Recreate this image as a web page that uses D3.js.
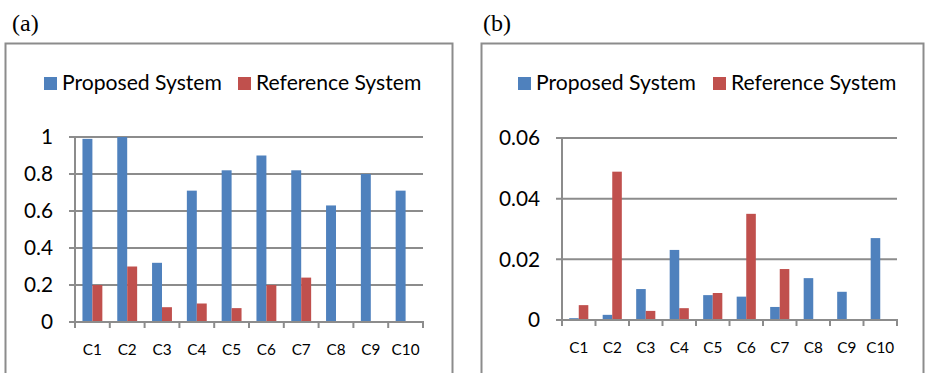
<!DOCTYPE html>
<html>
<head>
<meta charset="utf-8">
<script src="https://cdn.jsdelivr.net/npm/d3@7"></script>
<style>
  html, body { margin: 0; padding: 0; background: #fff; }
  svg { display: block; }
</style>
</head>
<body>
<svg id="chart" width="928" height="373"></svg>
<script>
const categories = ["C1", "C2", "C3", "C4", "C5", "C6", "C7", "C8", "C9", "C10"];
const seriesNames = ["Proposed System", "Reference System"];
const proposedA = [0.99, 1.0, 0.32, 0.71, 0.82, 0.90, 0.82, 0.63, 0.80, 0.71];
const referenceA = [0.20, 0.30, 0.08, 0.10, 0.075, 0.20, 0.24, 0, 0, 0];
const proposedB = [0.0006, 0.0017, 0.0102, 0.0231, 0.0082, 0.0077, 0.0043, 0.0138, 0.0093, 0.027];
const referenceB = [0.0049, 0.0489, 0.003, 0.0039, 0.0089, 0.035, 0.0168, 0, 0, 0];
const ticksA = [0, 0.2, 0.4, 0.6, 0.8, 1];
const ticksB = [0, 0.02, 0.04, 0.06];
const tickLabelsA = ["0", "0.2", "0.4", "0.6", "0.8", "1"];
const tickLabelsB = ["0", "0.02", "0.04", "0.06"];
const panelLabels = ["(a)", "(b)"];

const colors = ["#4F81BD", "#C0504D"];
const svg = d3.select("#chart");
const sans = "Lato, 'Open Sans', sans-serif";

// choose a font size so that a sample string reaches a given width
function fitSize(sample, width) {
  const t = svg.append("text").attr("font-family", sans).attr("font-size", 100).text(sample);
  const w = t.node().getComputedTextLength();
  t.remove();
  return 100 * width / w;
}
const legendSize = fitSize("Proposed System", 160);
const yTickSize = fitSize("0.8", 29);
const xTickSize = fitSize("C10", 28);

function panel(cfg) {
  const g = svg.append("g");
  g.append("rect").attr("x", cfg.box[0] + 0.5).attr("y", cfg.box[1] + 0.5)
    .attr("width", cfg.box[2] - cfg.box[0]).attr("height", cfg.box[3] - cfg.box[1])
    .attr("fill", "#fff").attr("stroke", "#8c8c8c").attr("stroke-width", 2);
  g.append("text").attr("x", cfg.labelX).attr("y", 31)
    .attr("font-family", "'Liberation Serif', 'Times New Roman', serif")
    .attr("font-size", 24).attr("fill", "#000").text(cfg.label);

  const x = d3.scaleBand().domain(categories).range([cfg.x0, cfg.x1]);
  const y = d3.scaleLinear().domain([0, cfg.ymax]).range([cfg.y0, cfg.y1]);
  const bw = x.bandwidth() * 10 / 35;
  const sub = d3.scaleBand().domain(seriesNames).range([0, bw * 2]);

  g.append("g").selectAll("line").data(cfg.ticks.slice(1)).join("line")
    .attr("x1", cfg.x0 - 6).attr("x2", cfg.x1)
    .attr("y1", d => y(d)).attr("y2", d => y(d))
    .attr("stroke", "#8c8c8c").attr("stroke-width", 2);

  const data = [cfg.p, cfg.r];
  data.forEach((vals, si) => {
    g.append("g").selectAll("rect").data(vals).join("rect")
      .attr("x", (d, i) => x(categories[i]) + (x.bandwidth() - 2 * bw) / 2 + sub(seriesNames[si]))
      .attr("width", bw)
      .attr("y", d => y(d))
      .attr("height", d => cfg.y0 - y(d))
      .attr("fill", colors[si]);
  });

  g.append("line").attr("x1", cfg.x0).attr("x2", cfg.x0).attr("y1", cfg.y1).attr("y2", cfg.y0)
    .attr("stroke", "#8c8c8c").attr("stroke-width", 2);
  g.append("line").attr("x1", cfg.x0 - 6).attr("x2", cfg.x1 + 1).attr("y1", cfg.y0).attr("y2", cfg.y0)
    .attr("stroke", "#8c8c8c").attr("stroke-width", 2);
  const bounds = categories.map(c => x(c)).concat([cfg.x1]);
  g.append("g").selectAll("line").data(bounds).join("line")
    .attr("x1", d => d).attr("x2", d => d).attr("y1", cfg.y0).attr("y2", cfg.y0 + 6)
    .attr("stroke", "#8c8c8c").attr("stroke-width", 2);

  g.append("g").selectAll("text").data(cfg.ticks).join("text")
    .attr("x", cfg.x0 - 22).attr("y", d => y(d)).attr("dy", "0.36em")
    .attr("text-anchor", "end").attr("font-family", sans).attr("font-size", yTickSize)
    .attr("fill", "#000").text((d, i) => cfg.tickLabels[i]);

  g.append("g").selectAll("text").data(categories).join("text")
    .attr("x", d => x(d) + x.bandwidth() / 2).attr("y", cfg.y0 + 27).attr("dy", "0.36em")
    .attr("text-anchor", "middle").attr("font-family", sans).attr("font-size", xTickSize)
    .attr("fill", "#000").text(d => d);

  seriesNames.forEach((s, i) => {
    g.append("rect").attr("x", cfg.legX[i]).attr("y", 77).attr("width", 13).attr("height", 13)
      .attr("fill", colors[i]);
    g.append("text").attr("x", cfg.legX[i] + 18).attr("y", 90)
      .attr("font-family", sans).attr("font-size", legendSize).attr("fill", "#000").text(s);
  });
}

panel({ box: [5, 43, 452, 380], label: panelLabels[0], labelX: 12,
  x0: 75, x1: 423, y0: 322, y1: 137, ymax: 1, ticks: ticksA, tickLabels: tickLabelsA,
  p: proposedA, r: referenceA, legX: [44, 238] });
panel({ box: [481, 43, 923, 380], label: panelLabels[1], labelX: 483,
  x0: 562, x1: 897, y0: 320, y1: 138, ymax: 0.06, ticks: ticksB, tickLabels: tickLabelsB,
  p: proposedB, r: referenceB, legX: [518, 713] });
</script>
</body>
</html>
